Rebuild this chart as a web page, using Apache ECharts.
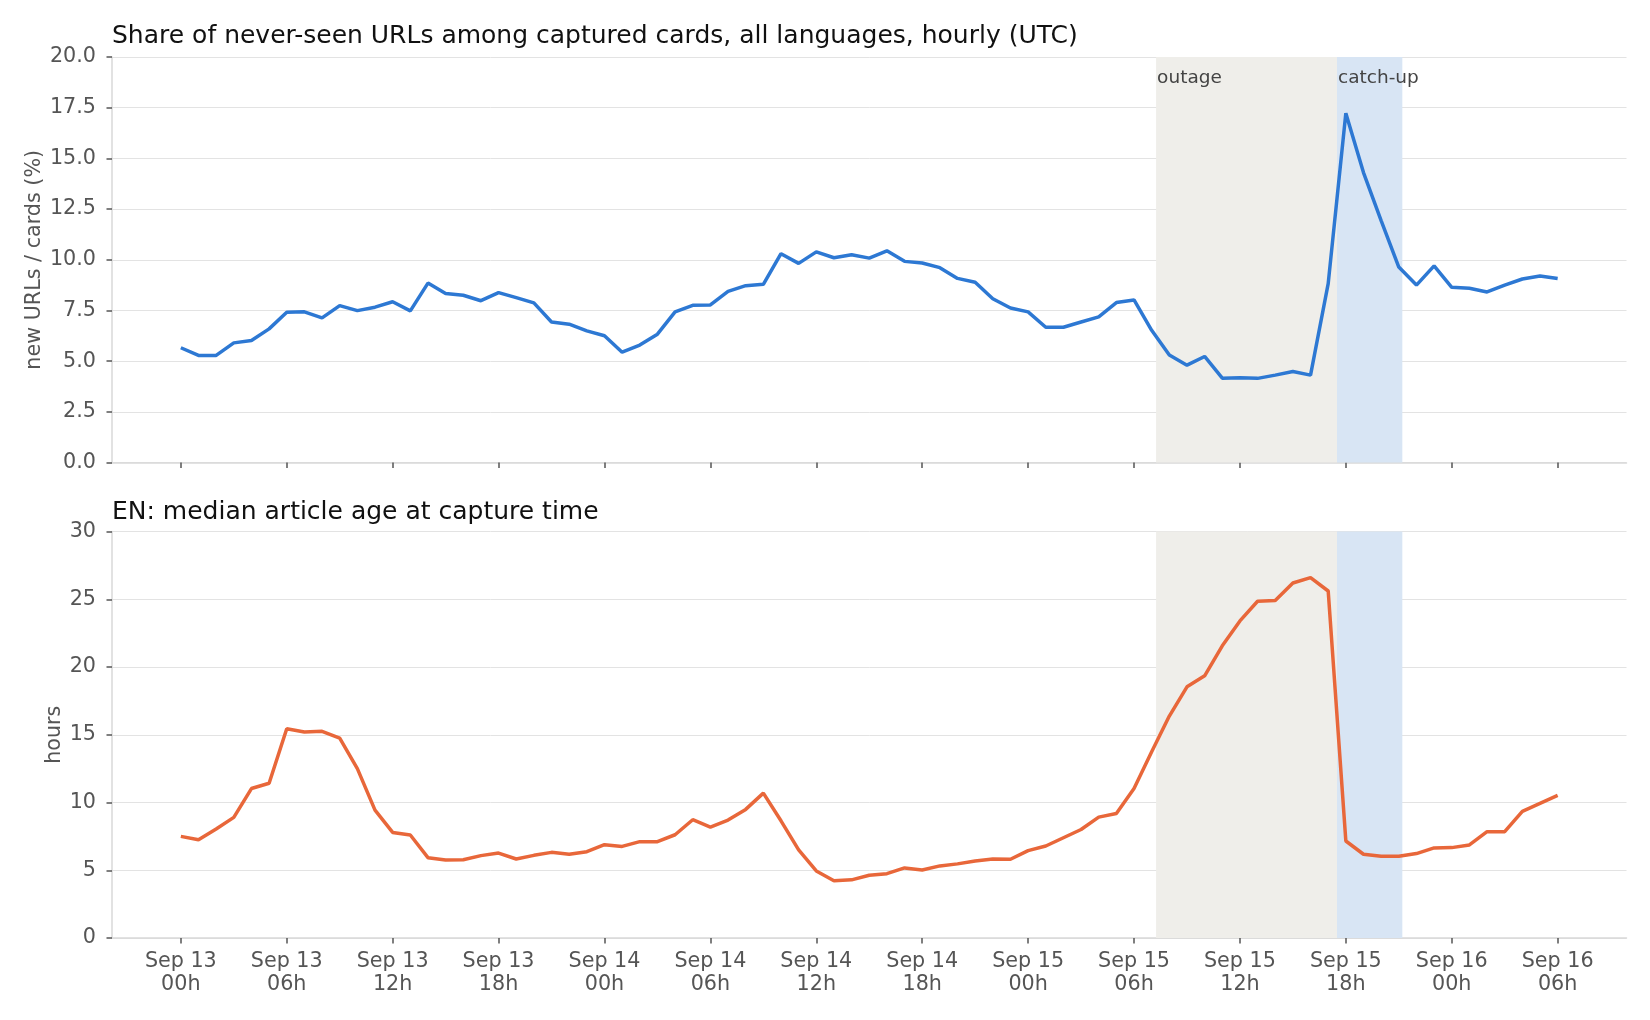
<!DOCTYPE html>
<html>
<head>
<meta charset="utf-8">
<script src="https://cdn.jsdelivr.net/npm/echarts@6/dist/echarts.min.js"></script>
<style>
html,body{margin:0;padding:0;background:#fff;}
#chart{width:1650px;height:1020px;}
</style>
</head>
<body>
<div id="chart"></div>
<script>
// Hour offsets from Sep 13 00h (UTC), one point per hour
const hours = [0,1,2,3,4,5,6,7,8,9,10,11,12,13,14,15,16,17,18,19,20,21,22,23,24,25,26,27,28,29,30,31,32,33,34,35,36,37,38,39,40,41,42,43,44,45,46,47,48,49,50,51,52,53,54,55,56,57,58,59,60,61,62,63,64,65,66,67,68,69,70,71,72,73,74,75,76,77,78];

// Share of never-seen URLs among captured cards (%)
const newUrlShare = [5.66,5.28,5.28,5.90,6.02,6.59,7.41,7.43,7.13,7.74,7.49,7.66,7.93,7.48,8.85,8.34,8.25,7.98,8.38,8.13,7.87,6.93,6.82,6.49,6.25,
  5.44,5.79,6.33,7.43,7.75,7.77,8.44,8.72,8.79,10.30,9.82,10.39,10.10,10.25,10.08,10.44,9.92,9.84,9.61,9.08,8.89,8.08,7.62,7.43,6.67,6.67,
  6.93,7.18,7.89,8.02,6.52,5.30,4.80,5.23,4.16,4.18,4.15,4.31,4.49,4.31,8.82,17.23,14.30,11.93,9.64,8.75,9.70,8.64,8.59,8.41,8.75,9.05,9.20,9.07];

// EN median article age at capture time (hours)
const medianAge = [7.50,7.25,8.04,8.90,11.03,11.42,15.44,15.20,15.25,14.75,12.50,9.44,7.79,7.60,5.93,5.76,5.78,6.08,6.27,5.83,6.10,6.32,6.18,6.37,6.89,6.76,
  7.11,7.11,7.62,8.73,8.19,8.70,9.49,10.69,8.65,6.50,4.95,4.22,4.29,4.63,4.75,5.17,5.02,5.32,5.47,5.69,5.83,5.81,6.45,6.79,7.40,8.01,8.92,9.19,
  11.03,13.75,16.38,18.54,19.35,21.56,23.40,24.85,24.90,26.20,26.60,25.61,7.16,6.18,6.03,6.03,6.23,6.65,6.67,6.87,7.85,7.85,9.35,9.94,10.53];

// Tick positions (hours) and labels
const tickHours = [0,6,12,18,24,30,36,42,48,54,60,66,72,78];
const tickLabels = ['Sep 13\n00h','Sep 13\n06h','Sep 13\n12h','Sep 13\n18h','Sep 14\n00h','Sep 14\n06h','Sep 14\n12h','Sep 14\n18h','Sep 15\n00h','Sep 15\n06h','Sep 15\n12h','Sep 15\n18h','Sep 16\n00h','Sep 16\n06h'];

// Shaded periods (hours)
const outage = [55.25, 65.5];
const catchUp = [65.5, 69.2];
const periodNames = ['outage', 'catch-up'];

const FONT = 'DejaVu Sans';
const TICK_COLOR = '#555555';
const GRID_COLOR = '#e3e3e3';
const SPINE_COLOR = '#d9d9d9';

const chart = echarts.init(document.getElementById('chart'), null, {renderer: 'canvas'});

function xAxisCfg(gridIndex, showLabels) {
  return {
    type: 'value', gridIndex: gridIndex, min: -3.9, max: 81.9,
    splitLine: {show: false},
    axisLine: {show: true, onZero: false, lineStyle: {color: SPINE_COLOR, width: 1.5}},
    axisTick: {show: true, customValues: tickHours, length: 5.5, lineStyle: {color: TICK_COLOR, width: 1.5}},
    axisLabel: {
      show: showLabels, customValues: tickHours,
      formatter: function (v) { const i = tickHours.indexOf(Math.round(v)); return i >= 0 ? tickLabels[i] : ''; },
      color: TICK_COLOR, fontFamily: FONT, fontSize: 20.7, lineHeight: 23, margin: 12
    }
  };
}
function yAxisCfg(gridIndex, max, interval, dec, name, nameGap) {
  return {
    type: 'value', gridIndex: gridIndex, min: 0, max: max, interval: interval,
    name: name, nameLocation: 'middle', nameGap: nameGap, nameMoveOverlap: false,
    nameTextStyle: {color: TICK_COLOR, fontFamily: FONT, fontSize: 20.7},
    axisLine: {show: true, onZero: false, lineStyle: {color: SPINE_COLOR, width: 1.5}},
    axisTick: {show: true, length: 5.5, lineStyle: {color: TICK_COLOR, width: 1.5}},
    splitLine: {show: true, lineStyle: {color: GRID_COLOR, width: 1}},
    axisLabel: {
      color: TICK_COLOR, fontFamily: FONT, fontSize: 20.7, margin: 16,
      formatter: function (v) { return v.toFixed(dec); }
    }
  };
}

const option = {
  animation: false,
  backgroundColor: '#ffffff',
  title: [
    {text: 'Share of never-seen URLs among captured cards, all languages, hourly (UTC)', left: 112, top: 21, padding: 0,
     textStyle: {fontFamily: FONT, fontSize: 25, fontWeight: 'normal', color: '#111111', lineHeight: 30}},
    {text: 'EN: median article age at capture time', left: 112, top: 497, padding: 0,
     textStyle: {fontFamily: FONT, fontSize: 25, fontWeight: 'normal', color: '#111111', lineHeight: 30}}
  ],
  grid: [
    {left: 112, right: 23.5, top: 57, height: 405.5},
    {left: 112, right: 23.5, top: 531.5, height: 406.5}
  ],
  xAxis: [xAxisCfg(0, false), xAxisCfg(1, true)],
  yAxis: [
    yAxisCfg(0, 20, 2.5, 1, 'new URLs / cards (%)', 67),
    yAxisCfg(1, 30, 5, 0, 'hours', 46.5)
  ],
  series: [
    {
      type: 'line', xAxisIndex: 0, yAxisIndex: 0, showSymbol: false, symbol: 'none',
      data: hours.map((h, i) => [h, newUrlShare[i]]),
      lineStyle: {color: '#2d78d3', width: 3.5}, itemStyle: {color: '#2d78d3'},
      z: 5,
      markArea: {
        silent: true,
        label: {show: true, position: [1, 12], color: '#444444', fontFamily: FONT, fontSize: 18.5},
        data: [
          [{name: periodNames[0], xAxis: outage[0], itemStyle: {color: '#efeeea'}}, {xAxis: outage[1]}],
          [{name: periodNames[1], xAxis: catchUp[0], itemStyle: {color: '#d8e5f4'}}, {xAxis: catchUp[1]}]
        ]
      }
    },
    {
      type: 'line', xAxisIndex: 1, yAxisIndex: 1, showSymbol: false, symbol: 'none',
      data: hours.map((h, i) => [h, medianAge[i]]),
      lineStyle: {color: '#e8673a', width: 3.5}, itemStyle: {color: '#e8673a'},
      z: 5,
      markArea: {
        silent: true,
        label: {show: false},
        data: [
          [{xAxis: outage[0], itemStyle: {color: '#efeeea'}}, {xAxis: outage[1]}],
          [{xAxis: catchUp[0], itemStyle: {color: '#d8e5f4'}}, {xAxis: catchUp[1]}]
        ]
      }
    }
  ]
};
chart.setOption(option);
</script>
</body>
</html>
